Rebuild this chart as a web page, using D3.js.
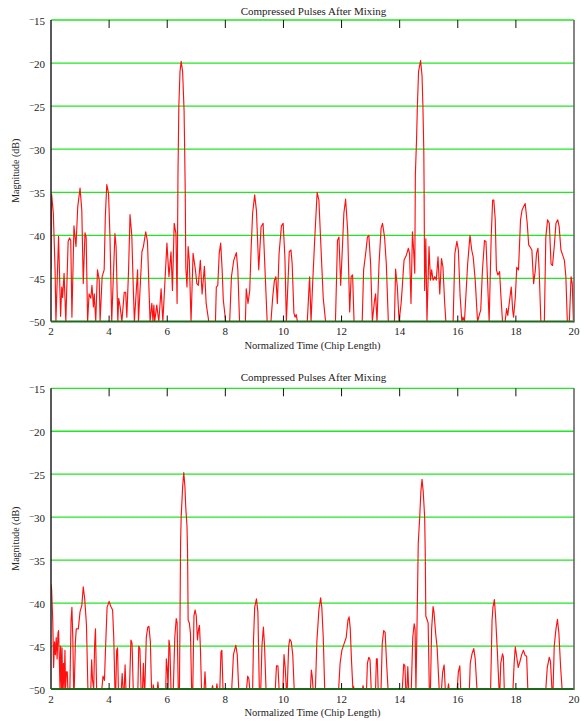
<!DOCTYPE html>
<html>
<head>
<meta charset="utf-8">
<script src="https://cdn.jsdelivr.net/npm/d3@7/dist/d3.min.js"></script>
<style>
  body { margin: 0; background: #fff; }
  text { font-family: "Liberation Serif", "Times New Roman", serif; fill: #222; }
</style>
</head>
<body>
<svg id="chart" width="581" height="722"></svg>
<script>
// Axis ticks shared by both panels
const timeTicks = [2, 4, 6, 8, 10, 12, 14, 16, 18, 20];
const magTicks = [-15, -20, -25, -30, -35, -40, -45, -50];

const panelTitle = "Compressed Pulses After Mixing";
const timeLabel = "Normalized Time (Chip Length)";
const magLabel = "Magnitude (dB)";

// Compressed pulse magnitude, first mixing case: [normalized time, dB]
const pulsesUpper = [
  [2.00,-43.9],[2.02,-35.2],[2.08,-37.4],[2.14,-44.0],[2.17,-50],[2.26,-40.1],[2.33,-49.4],[2.37,-46.0],
  [2.40,-47.2],[2.45,-44.4],[2.51,-50],[2.59,-40.7],[2.64,-40.3],[2.68,-40.6],[2.72,-49.5],[2.79,-38.9],
  [2.86,-41.3],[2.92,-36.7],[3.00,-34.5],[3.06,-37.1],[3.11,-45.6],[3.17,-39.7],[3.21,-40.2],[3.26,-50],
  [3.31,-46.8],[3.37,-47.3],[3.41,-45.8],[3.46,-48.3],[3.49,-46.8],[3.54,-50],[3.60,-44.0],[3.66,-45.2],
  [3.69,-50],[3.76,-44.8],[3.83,-44.0],[3.87,-37.8],[3.92,-34.1],[3.98,-35.1],[4.03,-40.2],[4.09,-50],
  [4.20,-39.8],[4.24,-41.3],[4.30,-50],[4.33,-47.3],[4.38,-48.3],[4.44,-50],[4.52,-46.6],[4.57,-46.6],
  [4.61,-49.5],[4.67,-44.0],[4.72,-37.6],[4.78,-40.0],[4.84,-47.0],[4.87,-50],[4.98,-44.0],[5.01,-50],
  [5.13,-41.9],[5.18,-41.3],[5.26,-39.6],[5.32,-40.7],[5.38,-47.0],[5.41,-50],[5.47,-47.9],[5.51,-50],
  [5.54,-48.1],[5.57,-50],[5.64,-48.1],[5.71,-50],[5.79,-46.2],[5.85,-50],[5.99,-40.9],[6.06,-44.8],
  [6.13,-41.9],[6.18,-46.4],[6.24,-38.6],[6.30,-39.8],[6.34,-47.9],[6.37,-33.0],[6.40,-25.0],[6.44,-21.0],
  [6.48,-19.8],[6.53,-21.0],[6.58,-25.5],[6.60,-30.0],[6.62,-35.0],[6.64,-43.7],[6.68,-46.0],[6.72,-41.3],
  [6.76,-42.9],[6.82,-50],[6.89,-42.1],[6.97,-44.0],[7.02,-45.6],[7.07,-45.8],[7.14,-42.9],[7.20,-46.8],
  [7.28,-43.6],[7.34,-47.9],[7.43,-50],[7.66,-50],[7.69,-46.0],[7.74,-45.8],[7.79,-42.1],[7.84,-40.9],
  [7.89,-44.0],[7.93,-47.5],[7.97,-48.7],[8.01,-50],[8.15,-50],[8.21,-44.8],[8.29,-42.9],[8.38,-42.0],
  [8.43,-44.0],[8.49,-50],[8.69,-50],[8.72,-46.2],[8.78,-47.9],[8.84,-46.4],[8.89,-41.3],[8.94,-37.4],
  [9.01,-35.3],[9.07,-37.1],[9.15,-44.0],[9.23,-39.0],[9.30,-38.6],[9.38,-45.2],[9.44,-50],[9.57,-50],
  [9.63,-47.2],[9.69,-45.2],[9.74,-44.8],[9.79,-47.9],[9.85,-42.1],[9.93,-38.9],[9.99,-38.6],[10.05,-42.5],
  [10.10,-50],[10.20,-41.9],[10.26,-41.7],[10.30,-43.3],[10.36,-49.0],[10.40,-49.5],[10.44,-49.2],[10.48,-50],
  [10.82,-50],[10.90,-44.8],[10.95,-50],[11.01,-45.2],[11.08,-40.2],[11.16,-35.0],[11.22,-35.9],[11.29,-41.3],
  [11.37,-47.3],[11.40,-48.3],[11.45,-50],[11.79,-50],[11.86,-40.6],[11.91,-40.2],[11.97,-45.8],[12.02,-42.1],
  [12.08,-37.4],[12.14,-35.8],[12.21,-39.4],[12.28,-48.9],[12.33,-44.8],[12.38,-44.6],[12.43,-50],[12.71,-50],
  [12.76,-44.0],[12.83,-42.1],[12.89,-40.2],[12.94,-40.0],[13.00,-43.3],[13.06,-50],[13.13,-47.7],[13.17,-46.8],
  [13.22,-50],[13.29,-43.3],[13.36,-39.2],[13.41,-38.6],[13.48,-40.2],[13.54,-43.3],[13.61,-50],[13.82,-50],
  [13.86,-43.9],[13.92,-46.0],[13.98,-50],[14.05,-47.9],[14.09,-46.0],[14.15,-42.9],[14.23,-42.3],[14.30,-41.5],
  [14.34,-42.1],[14.39,-47.9],[14.44,-39.6],[14.48,-41.7],[14.52,-44.4],[14.54,-33.0],[14.58,-29.0],[14.61,-25.0],
  [14.65,-21.0],[14.72,-19.7],[14.77,-21.5],[14.80,-25.0],[14.83,-30.0],[14.84,-34.0],[14.86,-46.4],[14.90,-40.4],
  [14.94,-50],[15.01,-41.3],[15.06,-45.2],[15.10,-44.0],[15.15,-45.2],[15.21,-44.8],[15.26,-45.2],[15.32,-42.5],
  [15.38,-46.8],[15.44,-42.7],[15.49,-43.7],[15.55,-47.9],[15.59,-50],[15.84,-50],[15.90,-42.1],[15.97,-40.7],
  [16.02,-41.7],[16.08,-47.0],[16.14,-50],[16.18,-49.5],[16.23,-50],[16.34,-43.3],[16.42,-40.0],[16.48,-41.7],
  [16.53,-42.5],[16.60,-45.2],[16.68,-50],[16.76,-49.0],[16.79,-48.7],[16.85,-44.0],[16.92,-40.6],[16.97,-40.7],
  [17.02,-44.8],[17.08,-50],[17.15,-40.2],[17.20,-35.9],[17.24,-35.9],[17.29,-38.2],[17.33,-44.0],[17.38,-44.6],
  [17.44,-44.2],[17.48,-46.8],[17.54,-50],[17.63,-50],[17.68,-48.5],[17.72,-49.3],[17.77,-47.9],[17.84,-46.0],
  [17.89,-48.7],[17.92,-49.5],[17.98,-47.2],[18.03,-43.7],[18.09,-44.0],[18.16,-38.2],[18.21,-37.1],[18.26,-36.7],
  [18.32,-36.3],[18.39,-38.6],[18.44,-41.1],[18.48,-41.3],[18.55,-41.7],[18.61,-45.6],[18.67,-44.0],[18.71,-42.1],
  [18.76,-41.5],[18.80,-44.0],[18.86,-50],[18.98,-50],[19.03,-40.2],[19.09,-38.2],[19.15,-38.6],[19.21,-43.3],
  [19.26,-43.5],[19.32,-41.3],[19.38,-38.6],[19.44,-38.2],[19.49,-39.0],[19.55,-41.7],[19.61,-42.3],[19.67,-42.9],
  [19.72,-44.8],[19.77,-50],[19.84,-50],[19.90,-44.8],[19.94,-45.6],[19.98,-50],[20.00,-50]
];

// Compressed pulse magnitude, second mixing case: [normalized time, dB]
const pulsesLower = [
  [2.00,-37.8],[2.02,-38.3],[2.06,-42.0],[2.09,-47.5],[2.12,-44.5],[2.15,-46.0],[2.18,-44.0],[2.21,-46.5],
  [2.24,-43.5],[2.26,-43.2],[2.29,-47.0],[2.31,-50],[2.33,-45.0],[2.36,-50],[2.38,-45.2],[2.40,-50],
  [2.43,-47.0],[2.45,-50],[2.48,-45.5],[2.50,-50],[2.53,-48.0],[2.56,-48.0],[2.58,-50],[2.65,-50],
  [2.69,-42.0],[2.72,-40.5],[2.75,-44.0],[2.78,-50],[2.80,-50],[2.84,-44.5],[2.87,-43.0],[2.94,-43.0],
  [3.00,-41.0],[3.06,-40.3],[3.11,-38.1],[3.16,-39.5],[3.22,-42.5],[3.27,-50],[3.37,-50],[3.40,-46.6],
  [3.43,-49.0],[3.47,-50],[3.50,-45.0],[3.53,-43.0],[3.57,-50],[3.75,-50],[3.79,-48.5],[3.84,-49.0],
  [3.88,-45.0],[3.93,-40.5],[4.00,-39.8],[4.06,-40.4],[4.12,-40.8],[4.16,-44.0],[4.20,-50],[4.23,-50],
  [4.26,-45.5],[4.29,-45.2],[4.32,-50],[4.42,-50],[4.45,-48.2],[4.48,-50],[4.52,-50],[4.55,-47.2],
  [4.58,-50],[4.70,-50],[4.75,-44.3],[4.79,-44.7],[4.83,-50],[4.99,-50],[5.02,-45.0],[5.06,-45.3],
  [5.10,-50],[5.15,-50],[5.18,-47.0],[5.21,-50],[5.23,-50],[5.28,-44.0],[5.33,-42.8],[5.37,-42.7],
  [5.42,-44.5],[5.46,-50],[5.51,-50],[5.52,-49.5],[5.54,-50],[5.66,-50],[5.68,-49.2],[5.70,-50],
  [5.95,-50],[5.97,-46.5],[6.00,-47.5],[6.03,-50],[6.06,-44.3],[6.09,-45.0],[6.13,-50],[6.21,-50],
  [6.26,-44.0],[6.31,-41.8],[6.34,-42.3],[6.38,-50],[6.42,-50],[6.44,-42.0],[6.46,-33.0],[6.48,-30.0],
  [6.53,-26.5],[6.57,-24.8],[6.61,-26.5],[6.64,-29.0],[6.68,-31.0],[6.70,-34.0],[6.72,-42.0],[6.76,-42.3],
  [6.80,-43.5],[6.84,-50],[6.88,-50],[6.92,-41.5],[6.96,-40.8],[7.00,-41.5],[7.04,-44.3],[7.08,-43.0],
  [7.11,-42.6],[7.14,-45.0],[7.18,-50],[7.27,-50],[7.30,-48.0],[7.33,-50],[7.54,-50],[7.56,-49.6],
  [7.58,-50],[7.69,-50],[7.71,-49.4],[7.73,-50],[7.81,-50],[7.85,-45.7],[7.88,-45.5],[7.92,-50],
  [8.22,-50],[8.28,-46.0],[8.36,-44.9],[8.41,-46.0],[8.46,-50],[8.73,-50],[8.77,-48.5],[8.81,-48.8],
  [8.84,-50],[8.94,-50],[8.97,-44.3],[9.01,-40.5],[9.07,-39.5],[9.12,-41.0],[9.17,-50],[9.22,-50],
  [9.26,-45.0],[9.31,-42.8],[9.35,-45.0],[9.40,-50],[9.72,-50],[9.76,-47.3],[9.81,-47.3],[9.85,-50],
  [9.98,-50],[10.02,-46.0],[10.06,-47.5],[10.10,-50],[10.13,-50],[10.18,-45.0],[10.22,-44.2],[10.27,-44.5],
  [10.32,-46.0],[10.37,-50],[10.93,-50],[10.96,-47.8],[10.99,-48.5],[11.02,-50],[11.10,-50],[11.15,-44.5],
  [11.22,-40.8],[11.28,-39.4],[11.32,-40.5],[11.37,-44.0],[11.42,-50],[11.90,-50],[11.95,-47.0],[12.01,-45.5],
  [12.10,-44.6],[12.16,-44.0],[12.22,-42.0],[12.26,-41.6],[12.30,-43.0],[12.34,-46.5],[12.39,-50],[12.41,-49.7],
  [12.43,-50],[12.72,-50],[12.74,-49.6],[12.76,-50],[12.86,-50],[12.89,-47.0],[12.94,-46.3],[12.98,-46.6],
  [13.02,-50],[13.17,-50],[13.20,-46.5],[13.23,-46.5],[13.26,-50],[13.36,-50],[13.40,-44.7],[13.45,-43.2],
  [13.50,-43.4],[13.55,-47.0],[13.60,-50],[14.09,-50],[14.14,-47.1],[14.18,-47.3],[14.21,-50],[14.25,-50],
  [14.28,-47.4],[14.31,-50],[14.40,-50],[14.45,-44.0],[14.50,-42.4],[14.53,-43.0],[14.56,-50],[14.60,-42.0],
  [14.64,-33.0],[14.69,-30.0],[14.73,-27.0],[14.77,-25.6],[14.81,-27.0],[14.86,-30.0],[14.88,-34.0],[14.90,-41.5],
  [14.95,-42.0],[14.98,-42.3],[15.02,-50],[15.06,-50],[15.10,-43.0],[15.15,-40.4],[15.18,-41.0],[15.24,-43.6],
  [15.29,-45.2],[15.36,-50],[15.44,-50],[15.48,-48.0],[15.53,-47.2],[15.57,-50],[15.66,-50],[15.68,-49.4],
  [15.70,-50],[15.98,-50],[16.02,-48.0],[16.07,-47.3],[16.10,-50],[16.40,-50],[16.43,-47.0],[16.49,-45.9],
  [16.55,-45.3],[16.60,-46.5],[16.66,-50],[17.13,-50],[17.18,-42.0],[17.21,-40.5],[17.26,-39.6],[17.30,-41.5],
  [17.36,-45.5],[17.42,-50],[17.45,-50],[17.48,-47.0],[17.54,-45.9],[17.57,-46.3],[17.60,-50],[17.90,-50],
  [17.94,-47.0],[17.98,-45.1],[18.03,-46.3],[18.08,-47.5],[18.14,-46.8],[18.20,-46.0],[18.26,-45.5],[18.32,-46.1],
  [18.37,-46.2],[18.41,-50],[19.03,-50],[19.08,-47.5],[19.15,-46.3],[19.19,-46.8],[19.24,-50],[19.28,-50],
  [19.32,-45.0],[19.38,-43.0],[19.43,-41.9],[19.48,-43.5],[19.54,-47.5],[19.59,-50],[20.00,-50]
];

const svg = d3.select("#chart");
const plotLeft = 51, plotRight = 574;

function drawPanel(data, top, bottom, titleY, id) {
  const x = d3.scaleLinear().domain([2, 20]).range([plotLeft, plotRight]);
  const y = d3.scaleLinear().domain([-50, -15]).range([bottom, top]);
  const g = svg.append("g");

  g.append("defs").append("clipPath").attr("id", id)
    .append("rect").attr("x", plotLeft).attr("y", top)
    .attr("width", plotRight - plotLeft).attr("height", bottom - top);

  // horizontal grid lines
  g.selectAll("line.grid").data(magTicks.filter(v => v > -50)).join("line")
    .attr("class", "grid")
    .attr("x1", plotLeft).attr("x2", plotRight)
    .attr("y1", d => y(d)).attr("y2", d => y(d))
    .attr("stroke", "#1ee81e").attr("stroke-width", 1.3);

  // trace
  const line = d3.line().x(d => x(d[0])).y(d => y(d[1]));
  g.append("path").datum(data)
    .attr("clip-path", `url(#${id})`)
    .attr("d", line)
    .attr("fill", "none")
    .attr("stroke", "#ff1010")
    .attr("stroke-width", 1.15)
    .attr("stroke-linejoin", "round");

  // frame: left axis, bottom baseline, right edge
  g.append("line").attr("x1", plotLeft).attr("x2", plotLeft)
    .attr("y1", top).attr("y2", bottom).attr("stroke", "#222").attr("stroke-width", 1.5);
  g.append("line").attr("x1", plotLeft).attr("x2", plotRight)
    .attr("y1", y(-50)).attr("y2", y(-50)).attr("stroke", "#1d6a1d").attr("stroke-width", 2);
  g.append("line").attr("x1", plotRight).attr("x2", plotRight)
    .attr("y1", top).attr("y2", bottom + 1).attr("stroke", "#666").attr("stroke-width", 1.6);

  // tick marks along the top and bottom edges
  const inner = timeTicks.slice(1, -1);
  g.selectAll("line.ttop").data(inner).join("line")
    .attr("x1", d => x(d)).attr("x2", d => x(d))
    .attr("y1", top).attr("y2", top + 8)
    .attr("stroke", "#111").attr("stroke-width", 1);
  g.selectAll("line.tbot").data(inner).join("line")
    .attr("x1", d => x(d)).attr("x2", d => x(d))
    .attr("y1", bottom).attr("y2", bottom - 6)
    .attr("stroke", "#111").attr("stroke-width", 1);

  // x tick labels
  g.selectAll("text.xt").data(timeTicks).join("text")
    .attr("x", d => x(d)).attr("y", bottom + 13.5)
    .attr("text-anchor", "middle").attr("font-size", 11)
    .text(d => d);

  // y tick labels with a raised minus sign
  const yl = g.selectAll("text.yt").data(magTicks).join("text")
    .attr("x", 45).attr("y", d => y(d) + 4.5)
    .attr("text-anchor", "end").attr("font-size", 11);
  yl.append("tspan").attr("font-size", 9).attr("dy", -2.5).text("\u2212");
  yl.append("tspan").attr("dy", 2.5).text(d => Math.abs(d));

  // titles
  g.append("text").attr("x", (plotLeft + plotRight) / 2 + 1).attr("y", titleY)
    .attr("text-anchor", "middle").attr("font-size", 11).text(panelTitle);
  g.append("text").attr("x", (plotLeft + plotRight) / 2).attr("y", bottom + 27)
    .attr("text-anchor", "middle").attr("font-size", 10.5).text(timeLabel);
  g.append("text")
    .attr("transform", `translate(19,${(top + bottom) / 2}) rotate(-90)`)
    .attr("text-anchor", "middle").attr("font-size", 10).text(magLabel);
}

drawPanel(pulsesUpper, 20, 321.5, 14.5, "clipUpper");
drawPanel(pulsesLower, 388.3, 689, 381, "clipLower");
</script>
</body>
</html>
